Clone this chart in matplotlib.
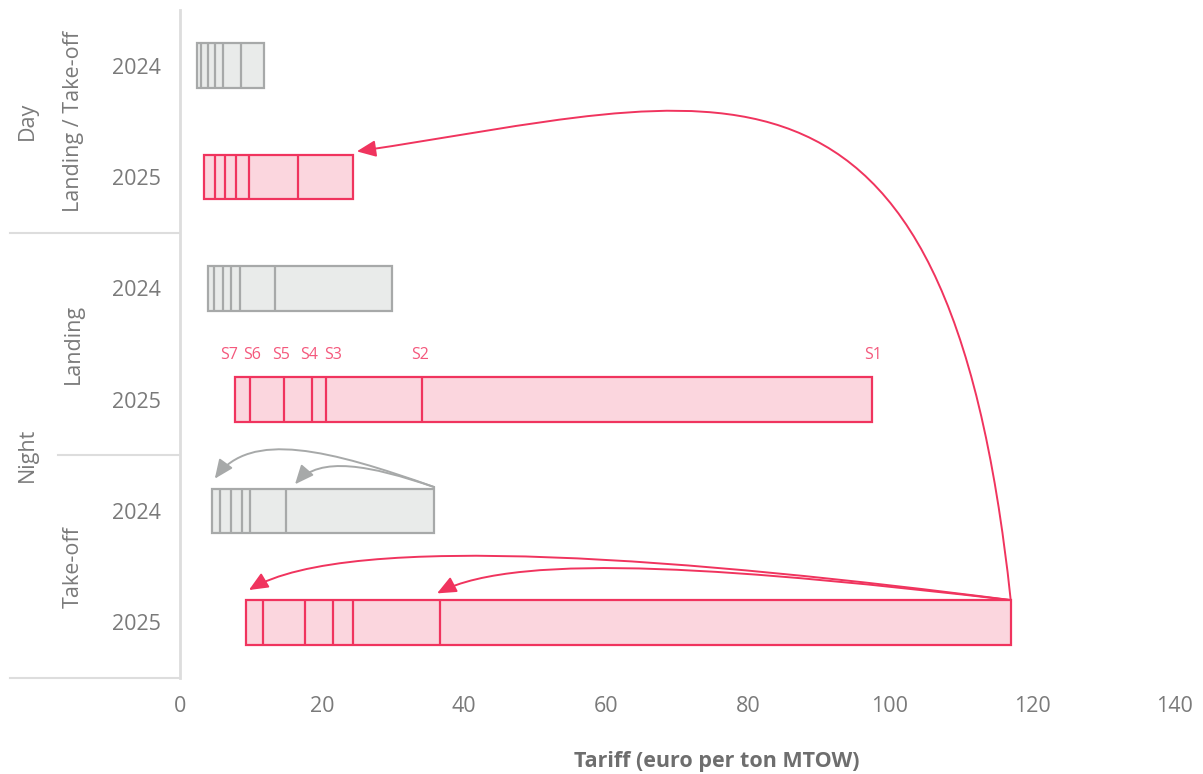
import matplotlib
matplotlib.use("Agg")
import matplotlib.pyplot as plt
from matplotlib.path import Path
from matplotlib.patches import FancyArrowPatch

plt.rcParams['font.family'] = ['Open Sans', 'DejaVu Sans']

# ---------------- data ----------------
row_labels = ["2024", "2025", "2024", "2025", "2024", "2025"]
inner_groups = ["Landing / Take-off", "Landing", "Take-off"]
inner_group_rows = [(0, 1), (2, 3), (4, 5)]
outer_groups = ["Day", "Night"]
outer_group_rows = [(0, 1), (2, 5)]
segments = ["S7", "S6", "S5", "S4", "S3", "S2", "S1"]

day_2024 = [2.4, 3.0, 3.9, 4.9, 6.0, 8.6, 11.9]
day_2025 = [3.4, 4.9, 6.4, 7.9, 9.7, 16.6, 24.4]
night_landing_2024 = [3.9, 4.8, 6.0, 7.2, 8.4, 13.4, 29.8]
night_landing_2025 = [7.8, 9.8, 14.7, 18.6, 20.5, 34.1, 97.5]
night_takeoff_2024 = [4.5, 5.7, 7.2, 8.7, 9.9, 14.9, 35.8]
night_takeoff_2025 = [9.3, 11.7, 17.6, 21.5, 24.4, 36.6, 117.0]

rows = [day_2024, day_2025, night_landing_2024, night_landing_2025,
        night_takeoff_2024, night_takeoff_2025]
x_ticks = [0, 20, 40, 60, 80, 100, 120, 140]

# ---------------- style ----------------
RED = "#F0345E"
RED_FILL = "#FBD6DE"
GRAY = "#A7A9A9"
GRAY_FILL = "#E9EBEA"
TXT = "#7A7A7A"
LINE = "#DDDDDD"
BAR_H = 0.4

fig = plt.figure(figsize=(12.03, 7.74), dpi=100)
ax = fig.add_axes([180 / 1203, 96 / 774, 994 / 1203, 668 / 774])
ax.set_xlim(0, 140)
ax.set_ylim(5.5, -0.5)

for i, vals in enumerate(rows):
    is_new = row_labels[i] == "2025"
    ec = RED if is_new else GRAY
    fc = RED_FILL if is_new else GRAY_FILL
    ax.barh(i, vals[-1] - vals[0], left=vals[0], height=BAR_H,
            color=fc, edgecolor=ec, linewidth=1.6, zorder=2)
    ax.vlines(vals[1:-1], i - BAR_H / 2, i + BAR_H / 2, color=ec,
              linewidth=1.6, zorder=3)

# segment labels above night landing 2025
label_offsets = {"S7": -0.85, "S6": 0.35, "S5": -0.45, "S4": -0.4,
                 "S3": 1.05, "S2": -0.3, "S1": 0.15}
for name, v in zip(segments, night_landing_2025):
    ax.text(v + label_offsets[name], 3 - BAR_H / 2 - 0.2, name,
            ha="center", va="center", fontsize=11.5, color="#F4587C")

# ---------------- arrows ----------------
def curve_arrow(p0, c1, c2, p1, color):
    path = Path([p0, c1, c2, p1],
                [Path.MOVETO, Path.CURVE4, Path.CURVE4, Path.CURVE4])
    arr = FancyArrowPatch(path=path,
                          arrowstyle="-|>,head_length=11.5,head_width=5",
                          color=color, linewidth=1.4, zorder=4,
                          mutation_scale=1, clip_on=False)
    ax.add_patch(arr)

top5 = 5 - BAR_H / 2
top4 = 4 - BAR_H / 2
top1 = 1 - BAR_H / 2
s1_25 = night_takeoff_2025[-1]
s1_24 = night_takeoff_2024[-1]

curve_arrow((s1_25, top5), (108.0, -0.6), (75.0, 0.30),
            (day_2025[-1] + 0.5, top1 - 0.03), RED)
curve_arrow((s1_25, top5), (73.2, 4.44), (23.9, 4.17),
            (night_takeoff_2025[0] + 0.4, top5 - 0.09), RED)
curve_arrow((s1_25, top5), (80.3, 4.53), (47.9, 4.35),
            (night_takeoff_2025[5] - 0.4, top5 - 0.06), RED)
curve_arrow((s1_24, top4 - 0.015), (21.1, 3.45), (9.9, 3.27),
            (night_takeoff_2024[0] + 0.4, top4 - 0.09), GRAY)
curve_arrow((s1_24, top4 - 0.015), (26.8, 3.59), (19.7, 3.50),
            (night_takeoff_2024[5] + 1.3, top4 - 0.04), GRAY)

# ---------------- axes styling ----------------
for s in ["top", "right", "bottom"]:
    ax.spines[s].set_visible(False)
ax.spines["left"].set_color(LINE)
ax.spines["left"].set_linewidth(2)

ax.set_yticks(range(len(row_labels)))
ax.set_yticklabels(row_labels)
ax.set_xticks(x_ticks)
ax.set_xticklabels([str(t) for t in x_ticks])
ax.tick_params(axis="y", length=0, pad=14, labelsize=15.5, labelcolor=TXT)
ax.tick_params(axis="x", length=0, pad=13, labelsize=15.5, labelcolor=TXT)

tr = ax.get_yaxis_transform()
# separators
ax.plot([-0.171, 0], [1.5, 1.5], transform=tr, color=LINE, lw=1.5, clip_on=False)
ax.plot([-0.1227, 0], [3.5, 3.5], transform=tr, color=LINE, lw=1.5, clip_on=False)
ax.plot([-0.171, 0], [5.5, 5.5], transform=tr, color=LINE, lw=1.5, clip_on=False)

for name, (a, b) in zip(inner_groups, inner_group_rows):
    ax.text(-0.1076, (a + b) / 2, name, transform=tr, rotation=90,
            ha="center", va="center", fontsize=15.5, color=TXT)
for name, (a, b) in zip(outer_groups, outer_group_rows):
    ax.text(-0.154, (a + b) / 2, name, transform=tr, rotation=90,
            ha="center", va="center", fontsize=15.5, color=TXT)

fig.text(717 / 1203, 1 - 761 / 774, "Tariff (euro per ton MTOW)",
         ha="center", va="center", fontsize=15.5, fontweight="bold", color="#6E6E6E")

fig.savefig("out.png", dpi=100, facecolor="white")
